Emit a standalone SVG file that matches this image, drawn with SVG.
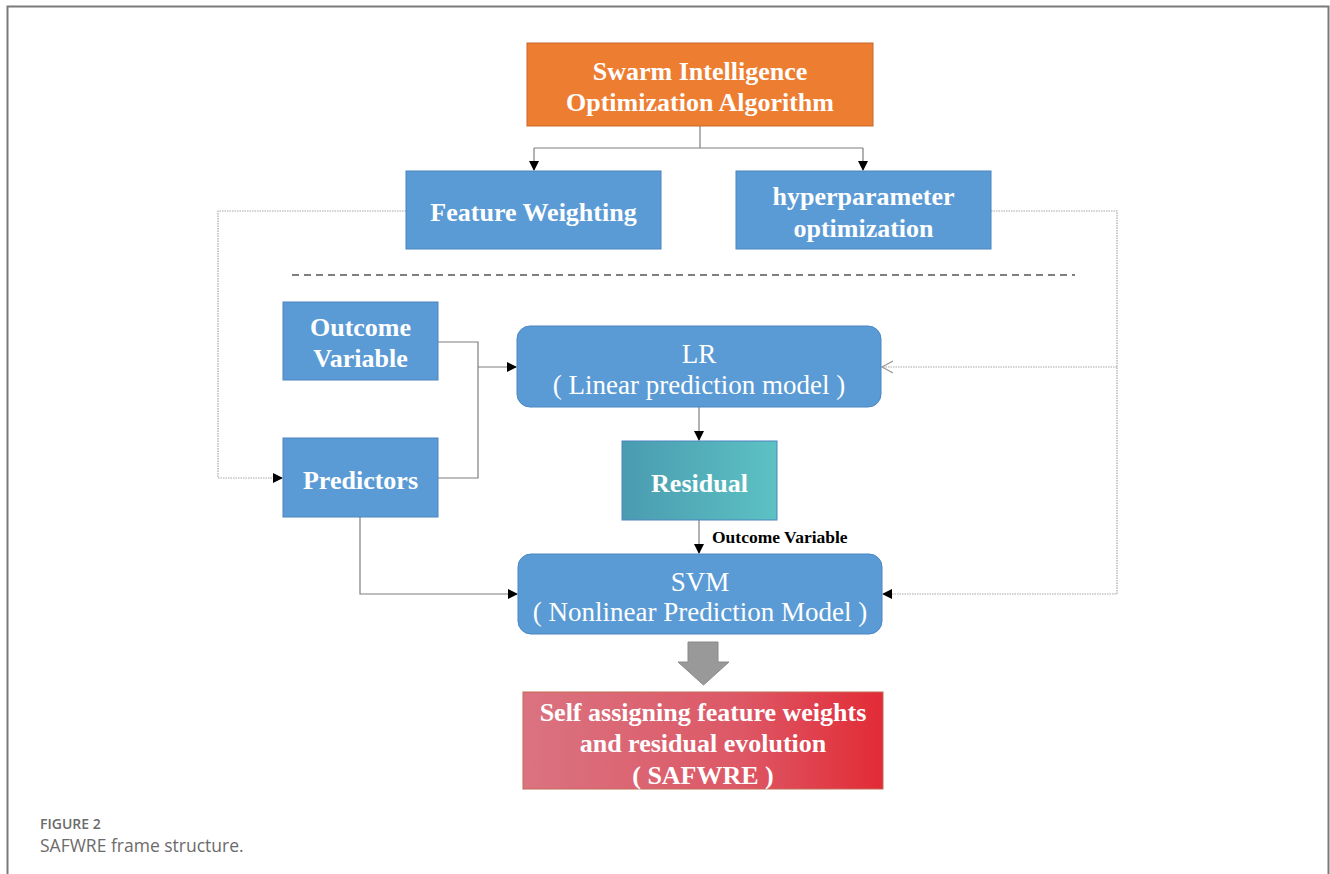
<svg xmlns="http://www.w3.org/2000/svg" width="1330" height="874" viewBox="0 0 1330 874">
<defs>
<style>
.blue{fill:#5B9BD5;stroke:#4A86C0;stroke-width:1}
.wb{font-family:"Liberation Serif","Times New Roman",serif;font-weight:bold;font-size:26px;fill:#fff;text-anchor:middle}
.wr{font-family:"Liberation Serif","Times New Roman",serif;font-size:27px;fill:#fff;text-anchor:middle}
.ln{fill:none;stroke:#7f7f7f;stroke-width:1.2}
.dot{fill:none;stroke:#a8a8a8;stroke-width:1.2;stroke-dasharray:1.5 1}
.cap{font-family:"Open Sans","Liberation Sans",sans-serif;fill:#6b6b6b}
</style>
<marker id="ah" markerWidth="10" markerHeight="10" refX="9" refY="5" orient="auto" markerUnits="userSpaceOnUse">
<path d="M0,0 L10,5 L0,10 Z" fill="#000"/>
</marker>
<marker id="ao" markerWidth="14" markerHeight="14" refX="11" refY="7" orient="auto" markerUnits="userSpaceOnUse">
<path d="M0,1 L11,7 L0,13" fill="none" stroke="#999" stroke-width="1.2"/>
</marker>
<linearGradient id="gres" x1="0" y1="0" x2="1" y2="0">
<stop offset="0" stop-color="#4A9BB0"/>
<stop offset="1" stop-color="#5CC2C4"/>
</linearGradient>
<linearGradient id="gsaf" x1="0" y1="0" x2="1" y2="0">
<stop offset="0" stop-color="#DA7380"/>
<stop offset="0.6" stop-color="#DD5866"/>
<stop offset="1" stop-color="#E22B36"/>
</linearGradient>
</defs>
<rect x="0" y="0" width="1330" height="874" fill="#fff"/>
<path d="M7.5,880 V6.5 H1328.5 V880" fill="none" stroke="#7a7a7a" stroke-width="2"/>

<g id="connectors">
<path class="ln" d="M700,126 V148"/>
<path class="ln" d="M534,148 H863"/>
<path class="ln" d="M534,148 V170" marker-end="url(#ah)"/>
<path class="ln" d="M863,148 V170" marker-end="url(#ah)"/>
<line x1="292" y1="275" x2="1075" y2="275" stroke="#555" stroke-width="1.3" stroke-dasharray="7 5"/>
<path class="dot" d="M406,211 H218 V478 H282" marker-end="url(#ah)"/>
<path class="dot" d="M991,211 H1117 V594 H883" marker-end="url(#ah)"/>
<path class="dot" d="M1117,367 H882" marker-end="url(#ao)"/>
<path class="ln" d="M438,342 H478 V478 H438"/>
<path class="ln" d="M478,367 H516" stroke="#000" marker-end="url(#ah)"/>
<path class="ln" d="M699,407 V440" stroke="#444" marker-end="url(#ah)"/>
<path class="ln" d="M699,520 V553" stroke="#444" marker-end="url(#ah)"/>
<path class="ln" d="M360,517 V594 H517" stroke="#555" marker-end="url(#ah)"/>
<text x="712" y="543" font-family="Liberation Serif, Times New Roman, serif" font-weight="bold" font-size="17.5" fill="#000">Outcome Variable</text>
</g>

<g id="swarm">
<rect x="527" y="43" width="346" height="83" fill="#ED7D31" stroke="#C8692A" stroke-width="1"/>
<text class="wb" x="700" y="80">Swarm Intelligence</text>
<text class="wb" x="700" y="111">Optimization Algorithm</text>
</g>
<g id="feature-weighting">
<rect class="blue" x="406" y="171" width="255" height="78"/>
<text class="wb" x="533.5" y="221">Feature Weighting</text>
</g>
<g id="hyperparameter">
<rect class="blue" x="736" y="171" width="255" height="78"/>
<text class="wb" x="863.5" y="205">hyperparameter</text>
<text class="wb" x="863.5" y="237">optimization</text>
</g>
<g id="outcome-variable">
<rect class="blue" x="283" y="302" width="155" height="78"/>
<text class="wb" x="360.5" y="336">Outcome</text>
<text class="wb" x="360.5" y="367">Variable</text>
</g>
<g id="predictors">
<rect class="blue" x="283" y="438" width="155" height="79"/>
<text class="wb" x="360.5" y="489">Predictors</text>
</g>
<g id="lr">
<rect class="blue" x="517" y="326" width="364" height="81" rx="13"/>
<text class="wr" x="699" y="363">LR</text>
<text class="wr" x="699" y="394">( Linear prediction model )</text>
</g>
<g id="residual">
<rect x="622" y="441" width="155" height="79" fill="url(#gres)" stroke="#4A86C0" stroke-width="1"/>
<text class="wb" x="699.5" y="492">Residual</text>
</g>
<g id="svm">
<rect class="blue" x="518" y="554" width="364" height="80" rx="13"/>
<text class="wr" x="700" y="591">SVM</text>
<text class="wr" x="700" y="621">( Nonlinear Prediction Model )</text>
</g>
<g id="block-arrow">
<path d="M688,642 H718 V662 H729 L703.5,685 L678,662 H688 Z" fill="#999" stroke="#8a8a8a" stroke-width="1"/>
</g>
<g id="safwre">
<rect x="523" y="692" width="360" height="97" fill="url(#gsaf)" stroke="#C26A55" stroke-width="1"/>
<text class="wb" x="703" y="721">Self assigning feature weights</text>
<text class="wb" x="703" y="752">and residual evolution</text>
<text class="wb" x="703" y="784">( SAFWRE )</text>
</g>
<g id="caption">
<text class="cap" x="40" y="829" font-size="14" font-weight="600">FIGURE 2</text>
<text class="cap" x="40" y="852" font-size="17.5">SAFWRE frame structure.</text>
</g>
</svg>
